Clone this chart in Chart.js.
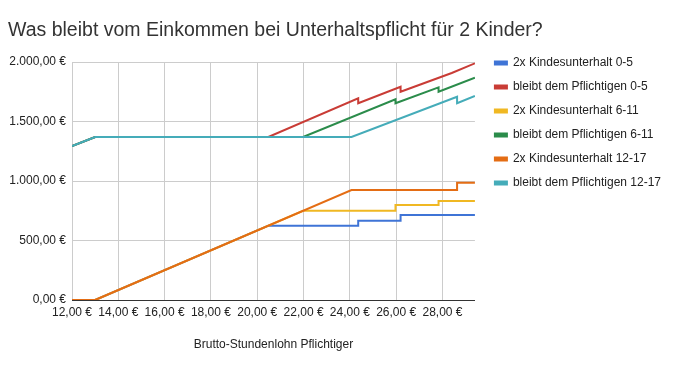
<!DOCTYPE html>
<html><head><meta charset="utf-8">
<script src="https://cdn.jsdelivr.net/npm/chart.js@4.4.1/dist/chart.umd.min.js"></script>
<style>html,body{margin:0;padding:0;background:#fff}</style>
</head><body>
<canvas id="c" width="685" height="370"></canvas>
<script>
// ---- data ----
const chartTitle = "Was bleibt vom Einkommen bei Unterhaltspflicht für 2 Kinder?";
const xAxisTitle = "Brutto-Stundenlohn Pflichtiger";
const seriesNames = [
  "2x Kindesunterhalt 0-5",
  "bleibt dem Pflichtigen 0-5",
  "2x Kindesunterhalt 6-11",
  "bleibt dem Pflichtigen 6-11",
  "2x Kindesunterhalt 12-17",
  "bleibt dem Pflichtigen 12-17"
];
const xTickValues = [12, 14, 16, 18, 20, 22, 24, 26, 28];
const yTickValues = [0, 500, 1000, 1500, 2000];

// Brutto-Stundenlohn (x) and Euro values (y) at the break points of each series
const ku05Wage   = [12, 13, 20.48, 24.36, 24.36, 26.19, 26.19, 29.4];
const ku05Euro   = [0, 0, 625, 625, 666, 666, 714, 714];
const rest05Wage = [12, 13, 20.48, 24.36, 24.36, 26.19, 26.19, 28.4, 29.4];
const rest05Euro = [1294, 1370, 1370, 1695, 1653, 1792, 1750, 1908, 1989];
const ku611Wage   = [12, 13, 21.98, 25.97, 25.97, 27.83, 27.83, 29.4];
const ku611Euro   = [0, 0, 750, 750, 798, 798, 832, 832];
const rest611Wage = [12, 13, 21.98, 25.97, 25.97, 27.83, 27.83, 29.4];
const rest611Euro = [1294, 1370, 1370, 1687, 1653, 1787, 1750, 1868];
const ku1217Wage   = [12, 13, 24.07, 28.63, 28.63, 29.4];
const ku1217Euro   = [0, 0, 924, 924, 986, 986];
const rest1217Wage = [12, 13, 24.07, 28.63, 28.63, 29.4];
const rest1217Euro = [1294, 1370, 1370, 1708, 1653, 1714];

const seriesWages = [ku05Wage, rest05Wage, ku611Wage, rest611Wage, ku1217Wage, rest1217Wage];
const seriesEuros = [ku05Euro, rest05Euro, ku611Euro, rest611Euro, ku1217Euro, rest1217Euro];

// ---- styles ----
const colors = ['#3f74d6', '#c93c36', '#f0b823', '#2b8c4b', '#e46d14', '#45acb9'];
const FONT = "'Liberation Sans', Arial, sans-serif";

function euro(v) {
  const parts = Number(v).toFixed(2).split('.');
  return parts[0].replace(/\B(?=(\d{3})+(?!\d))/g, '.') + ',' + parts[1] + ' €';
}

const datasets = seriesNames.map((name, i) => ({
  label: name,
  data: seriesWages[i].map((w, k) => ({x: w, y: seriesEuros[i][k]})),
  borderColor: colors[i],
  backgroundColor: colors[i],
  borderWidth: 2,
  pointRadius: 0,
  pointHoverRadius: 0,
  tension: 0,
  fill: false,
  order: seriesNames.length - i
}));

const legendShift = {
  id: 'legendShift',
  afterLayout(chart) {
    const l = chart.legend;
    if (!l) return;
    l.left += 8;
    l.top -= 17;
  }
};

new Chart(document.getElementById('c'), {
  type: 'line',
  data: {datasets},
  plugins: [legendShift],
  options: {
    responsive: false,
    animation: false,
    events: [],
    layout: {padding: {top: 0, left: 8, bottom: 0, right: 22}},
    plugins: {
      title: {
        display: true,
        text: chartTitle,
        align: 'start',
        color: '#333',
        font: {family: FONT, size: 19.5, weight: 'normal'},
        padding: {top: 18.8, bottom: 19.8}
      },
      legend: {
        position: 'right',
        align: 'start',
        fullSize: false,
        maxWidth: 230,
        labels: {
          color: '#222',
          font: {family: FONT, size: 12},
          boxWidth: 12,
          boxHeight: 3,
          padding: 12,
          sort: (a, b) => a.datasetIndex - b.datasetIndex
        }
      },
      tooltip: {enabled: false}
    },
    scales: {
      x: {
        type: 'linear',
        min: 12,
        max: 29.4,
        afterFit: s => { s.height = 70; },
        afterBuildTicks: s => { s.ticks = xTickValues.map(v => ({value: v})); },
        grid: {color: '#cccccc', drawTicks: false, lineWidth: 1},
        border: {display: true, color: '#333', width: 1},
        ticks: {
          autoSkip: false, maxRotation: 0, minRotation: 0,
          padding: 5, color: '#222',
          font: {family: FONT, size: 12},
          callback: v => euro(v)
        },
        title: {
          display: true, text: xAxisTitle, color: '#222',
          font: {family: FONT, size: 12},
          padding: {top: 4, bottom: 18}
        }
      },
      y: {
        type: 'linear',
        min: 0,
        max: 2000,
        afterFit: s => { s.width = 64; },
        afterBuildTicks: s => { s.ticks = yTickValues.map(v => ({value: v})); },
        grid: {color: '#cccccc', drawTicks: false, lineWidth: 1},
        border: {display: false},
        ticks: {
          padding: 6, color: '#222',
          font: {family: FONT, size: 12},
          callback: v => euro(v)
        }
      }
    }
  }
});
</script>
</body></html>
